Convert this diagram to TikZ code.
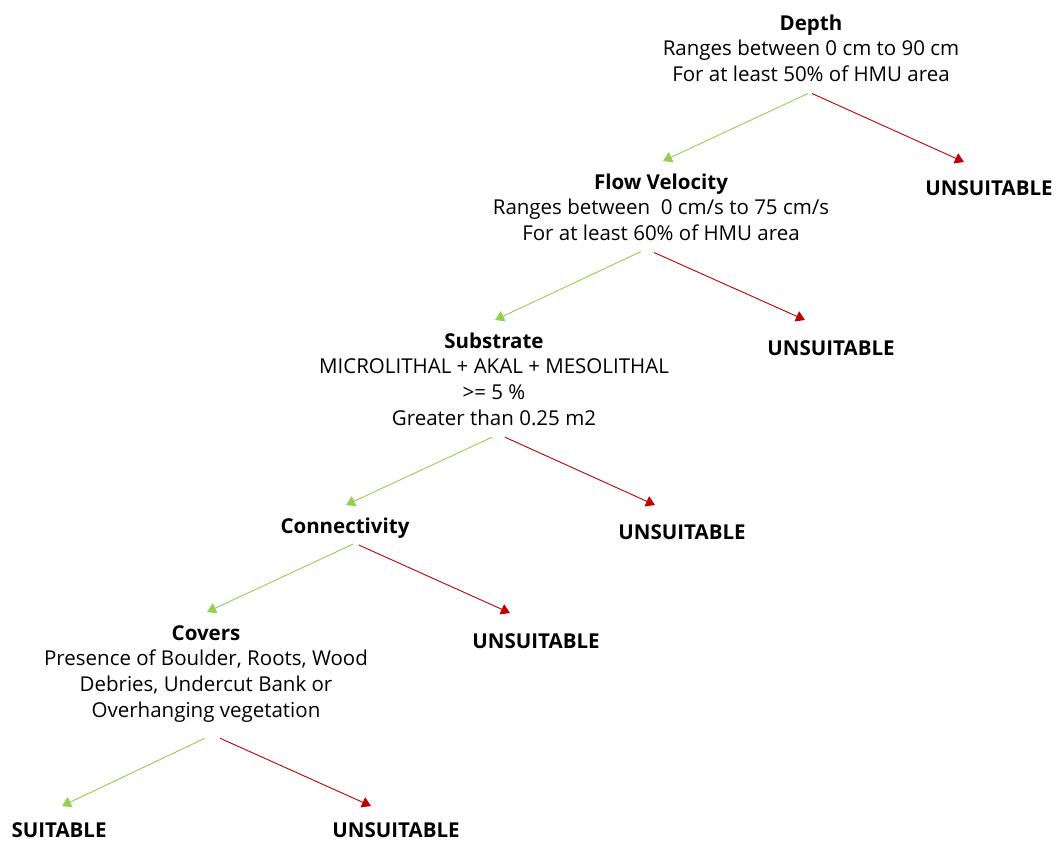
\documentclass[tikz,border=0pt]{standalone}
\usepackage{fontspec}
\setmainfont{Open Sans}
\usetikzlibrary{arrows.meta}
\definecolor{okgreen}{HTML}{92D050}
\definecolor{badred}{HTML}{C00000}
\tikzset{
  crit/.style={align=center, anchor=north, inner sep=0pt,
    font=\fontsize{20.5}{25.7}\selectfont},
  verdict/.style={anchor=north, inner sep=0pt, text height=18pt, text depth=2pt,
    font=\fontsize{20.5}{25.7}\selectfont\bfseries},
  pass/.style={draw=okgreen, line width=0.9pt, -{Triangle[length=9pt,width=11pt]}},
  fail/.style={draw=badred, line width=0.9pt, -{Triangle[length=9pt,width=11pt]}}
}
\begin{document}
\begin{tikzpicture}[x=1pt, y=-1pt]
  \useasboundingbox (0,0) rectangle (1056,844);

  % criteria
  \node[crit] (depth) at (811,12) {\textbf{Depth}\strut\\
    Ranges between 0 cm to 90 cm\strut\\
    For at least 50\% of HMU area\strut};
  \node[crit] (flow) at (661,171) {\textbf{Flow Velocity}\strut\\
    Ranges between\ \ 0 cm/s to 75 cm/s\strut\\
    For at least 60\% of HMU area\strut};
  \node[crit] (subst) at (494,330) {\textbf{Substrate}\strut\\
    MICROLITHAL + AKAL + MESOLITHAL\strut\\
    >= 5 \%\strut\\
    Greater than 0.25 m2\strut};
  \node[crit] (conn) at (345,515) {\textbf{Connectivity}\strut};
  \node[crit] (covers) at (206,622) {\textbf{Covers}\strut\\
    Presence of Boulder, Roots, Wood\strut\\
    Debries, Undercut Bank or\strut\\
    Overhanging vegetation\strut};

  % outcomes
  \node[verdict] (u1) at (989,177) {UNSUITABLE};
  \node[verdict] (u2) at (831,337) {UNSUITABLE};
  \node[verdict] (u3) at (682,521) {UNSUITABLE};
  \node[verdict] (u4) at (536,630) {UNSUITABLE};
  \node[verdict] (ok) at (59,819) {SUITABLE};
  \node[verdict] (u5) at (396,819) {UNSUITABLE};

  % branches
  \draw[pass] ([xshift=-3pt,yshift=-4pt]depth.south) -- ([xshift=2pt,yshift=10pt]flow.north);
  \draw[fail] ([xshift=1pt,yshift=-4pt]depth.south) -- ([xshift=-25pt,yshift=15pt]u1.north);
  \draw[pass] ([xshift=-20pt,yshift=-3pt]flow.south) -- ([xshift=1pt,yshift=10pt]subst.north);
  \draw[fail] ([xshift=-7pt,yshift=-4pt]flow.south) -- ([xshift=-26pt,yshift=17pt]u2.north);
  \draw[pass] ([xshift=-2pt,yshift=-4pt]subst.south) -- ([xshift=1pt,yshift=10pt]conn.north);
  \draw[fail] ([xshift=11pt,yshift=-4pt]subst.south) -- ([xshift=-27pt,yshift=16pt]u3.north);
  \draw[pass] ([xshift=8pt,yshift=-3pt]conn.south) -- ([xshift=1pt,yshift=10pt]covers.north);
  \draw[fail] ([xshift=14pt,yshift=-4pt]conn.south) -- ([xshift=-26pt,yshift=17pt]u4.north);
  \draw[pass] ([xshift=-1pt,yshift=-13pt]covers.south) -- ([xshift=3pt,yshift=13pt]ok.north);
  \draw[fail] ([xshift=14pt,yshift=-13pt]covers.south) -- ([xshift=-25pt,yshift=13pt]u5.north);
\end{tikzpicture}
\end{document}
